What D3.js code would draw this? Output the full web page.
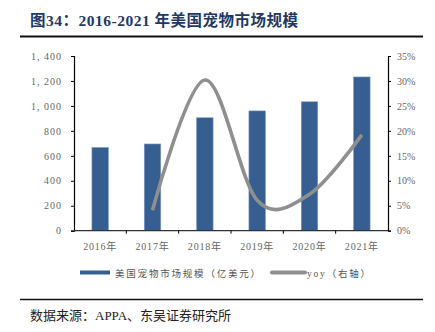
<!DOCTYPE html>
<html><head><meta charset="utf-8">
<script src="https://cdn.jsdelivr.net/npm/d3@7"></script>
<style>
body{margin:0;background:#fff;}
svg{display:block;}
</style></head>
<body>
<svg id="c" width="435" height="332"></svg>
<script>
const years = ["2016年","2017年","2018年","2019年","2020年","2021年"];
const marketSize = [667, 695, 905, 960, 1033, 1232];
const yoyYears = ["2017年","2018年","2019年","2020年","2021年"];
const yoy = [0.041, 0.302, 0.061, 0.073, 0.192];
const leftTicks = [0,200,400,600,800,1000,1200,1400];
const rightTicks = [0,0.05,0.10,0.15,0.20,0.25,0.30,0.35];

const svg = d3.select("#c");
const L = 74, R = 388, T = 56, B = 230.7;
const serif = "'Liberation Serif','DejaVu Serif',serif";
const cjk = "'Noto Sans CJK SC',sans-serif";

// title
svg.append("text").attr("x",30).attr("y",26)
  .attr("font-family", serif + ",'Noto Sans CJK SC'").attr("font-weight","bold")
  .attr("font-size",15.5).attr("fill","#1f3864").attr("letter-spacing",0.5)
  .text("图34：2016-2021 年美国宠物市场规模");
svg.append("line").attr("x1",20).attr("x2",423).attr("y1",36.5).attr("y2",36.5)
  .attr("stroke","#111").attr("stroke-width",2);

const x = d3.scaleBand().domain(years).range([L,R]).paddingInner(0).paddingOuter(0);
const y = d3.scaleLinear().domain([0,1400]).range([B,T]);
const y2 = d3.scaleLinear().domain([0,0.35]).range([B,T]);

// bars
const bw = 16.5;
svg.append("g").selectAll("rect").data(marketSize).join("rect")
  .attr("x",(d,i)=>x(years[i])+x.bandwidth()/2-bw/2)
  .attr("y",d=>y(d)).attr("width",bw).attr("height",d=>B-y(d))
  .attr("fill","#365e91").attr("stroke","#7f9cc4").attr("stroke-width",0.6);

// left axis
const gl = svg.append("g").attr("transform",`translate(${L},0)`)
  .call(d3.axisLeft(y).tickValues(leftTicks).tickSize(3).tickPadding(9)
    .tickFormat(d=>d3.format(",")(d).replace(",", ", ")));
gl.select(".domain").attr("stroke","#000").attr("stroke-width",1.2);
gl.selectAll(".tick line").attr("stroke","#000");
gl.selectAll("text").attr("font-family",serif).attr("font-size",10).attr("fill","#666")
  .attr("letter-spacing",1);

// right axis
const gr = svg.append("g").attr("transform",`translate(${R},0)`)
  .call(d3.axisRight(y2).tickValues(rightTicks).tickSize(3).tickPadding(6)
    .tickFormat(d3.format(".0%")));
gr.select(".domain").attr("stroke","#000").attr("stroke-width",1.2);
gr.selectAll(".tick line").attr("stroke","#000");
gr.selectAll("text").attr("font-family",serif).attr("font-size",10).attr("fill","#666");

// bottom axis
const gb = svg.append("g").attr("transform",`translate(0,${B})`);
gb.append("line").attr("x1",L).attr("x2",R).attr("stroke","#333").attr("stroke-width",1.2);
gb.selectAll("line.t").data(years.slice(1)).join("line").attr("class","t")
  .attr("x1",d=>x(d)).attr("x2",d=>x(d)).attr("y1",0).attr("y2",3).attr("stroke","#000");
gb.selectAll("text").data(years).join("text")
  .attr("x",d=>x(d)+x.bandwidth()/2).attr("y",19).attr("text-anchor","middle")
  .attr("font-family",serif+",'Noto Sans CJK SC'").attr("font-size",10).attr("fill","#666")
  .attr("letter-spacing",0.8).text(d=>d);

// yoy line
const line = d3.line().x((d,i)=>x(yoyYears[i])+x.bandwidth()/2).y(d=>y2(d))
  .curve(d3.curveCatmullRom.alpha(0));
svg.append("path").datum(yoy).attr("d",line).attr("fill","none")
  .attr("stroke","#8f8f8f").attr("stroke-width",3.6).attr("stroke-linecap","butt");

// legend
const ly = 272.5;
svg.append("line").attr("x1",80).attr("x2",110).attr("y1",ly).attr("y2",ly)
  .attr("stroke","#365e91").attr("stroke-width",4);
svg.append("text").attr("x",115).attr("y",ly+4).attr("font-family",cjk).attr("font-size",9.5)
  .attr("fill","#555").attr("letter-spacing",1.8).text("美国宠物市场规模（亿美元）");
svg.append("line").attr("x1",272).attr("x2",305).attr("y1",ly).attr("y2",ly)
  .attr("stroke","#8f8f8f").attr("stroke-width",4).attr("stroke-linecap","round");
svg.append("text").attr("x",307).attr("y",ly+4).attr("font-family",serif+",'Noto Sans CJK SC'").attr("font-size",9.5)
  .attr("fill","#555").attr("letter-spacing",1.8).text("yoy（右轴）");

// footer
svg.append("line").attr("x1",20).attr("x2",423).attr("y1",299.5).attr("y2",299.5)
  .attr("stroke","#111").attr("stroke-width",1.5);
svg.append("text").attr("x",30).attr("y",320).attr("font-family",serif+",'Noto Sans CJK SC'")
  .attr("font-size",13).attr("fill","#222").text("数据来源：APPA、东吴证券研究所");
</script>
</body></html>
